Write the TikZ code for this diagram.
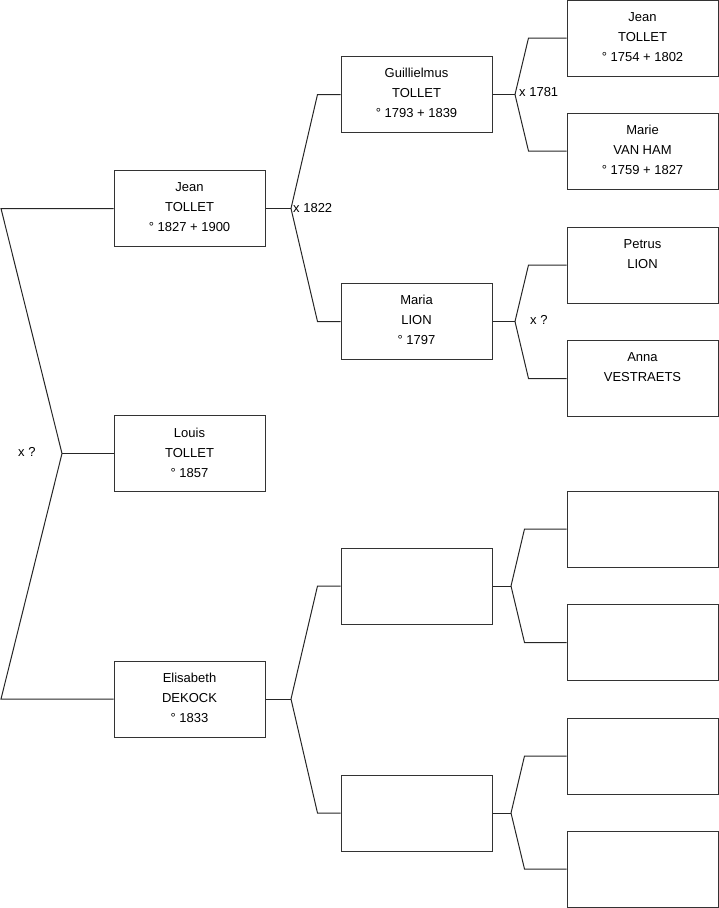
\documentclass[tikz,border=0pt]{standalone}
\usepackage{fontspec}
\setmainfont{Liberation Sans}
\usetikzlibrary{calc}
\tikzset{
  x=1pt,y=-1pt,
  pbox/.style={draw=black!80,line width=1pt,minimum width=151pt,minimum height=76pt,inner sep=0pt},
  ptext/.style={anchor=north,align=center,inner sep=0pt,font=\fontsize{13}{20}\selectfont},
  conn/.style={draw=black!85,line width=1pt},
  lbl/.style={inner sep=0pt,font=\fontsize{13}{15}\selectfont}
}
\begin{document}
\begin{tikzpicture}
\useasboundingbox (0,0) rectangle (719,908);
% level 1
\node[pbox] (j1) at (189.5,208.5) {};
\node[pbox] (l1) at (189.5,453.5) {};
\node[pbox] (e1) at (189.5,699) {};
% level 2
\node[pbox] (g2) at (416.5,94.5) {};
\node[pbox] (m2) at (416.5,321.5) {};
\node[pbox] (x2) at (416.5,586) {};
\node[pbox] (y2) at (416.5,813) {};
% level 3
\node[pbox] (j3) at (642.5,38) {};
\node[pbox] (m3) at (642.5,151) {};
\node[pbox] (p3) at (642.5,265) {};
\node[pbox] (a3) at (642.5,378.5) {};
\node[pbox] (b3) at (642.5,529) {};
\node[pbox] (c3) at (642.5,642.5) {};
\node[pbox] (d3) at (642.5,756) {};
\node[pbox] (f3) at (642.5,869) {};
% texts
\node[ptext] (tj1) at ($(j1.north)+(0,12)$) {Jean\\TOLLET\\° 1827 + 1900};
\node[ptext] (tl1) at ($(l1.north)+(0,13)$) {Louis\\TOLLET\\° 1857};
\node[ptext] (te1) at ($(e1.north)+(0,12)$) {Elisabeth\\DEKOCK\\° 1833};
\node[ptext] (tg2) at ($(g2.north)+(0,12)$) {Guillielmus\\TOLLET\\° 1793 + 1839};
\node[ptext] (tm2) at ($(m2.north)+(0,12)$) {Maria\\LION\\° 1797};
\node[ptext] (tj3) at ($(j3.north)+(0,12.5)$) {Jean\\TOLLET\\° 1754 + 1802};
\node[ptext] (tm3) at ($(m3.north)+(0,12.5)$) {Marie\\VAN HAM\\° 1759 + 1827};
\node[ptext] (tp3) at ($(p3.north)+(0,12.5)$) {Petrus\\LION};
\node[ptext] (ta3) at ($(a3.north)+(0,12)$) {Anna\\VESTRAETS};
% root fork
\coordinate (ra) at (1,208.5);
\coordinate (rv) at (62,453.5);
\coordinate (rb) at (1,699);
\draw[conn] (j1.west) -- (ra) -- (rv) -- (rb) -- (e1.west);
\draw[conn] (rv) -- (l1.west);
\node[lbl,anchor=west] (lx0) at (18,452) {x ?};
% Jean fork
\coordinate (v1) at (291,208.5);
\draw[conn] (j1.east) -- (v1);
\draw[conn] (v1) -- ($(g2.west)+(-23,0)$) -- (g2.west);
\draw[conn] (v1) -- ($(m2.west)+(-23,0)$) -- (m2.west);
\node[lbl,anchor=west] (lx1) at (293,208) {x 1822};
% Elisabeth fork
\coordinate (v2) at (291,699);
\draw[conn] (e1.east) -- (v2);
\draw[conn] (v2) -- ($(x2.west)+(-23,0)$) -- (x2.west);
\draw[conn] (v2) -- ($(y2.west)+(-23,0)$) -- (y2.west);
% Guillielmus fork
\coordinate (v3) at (515,94.5);
\draw[conn] (g2.east) -- (v3);
\draw[conn] (v3) -- ($(j3.west)+(-38,0)$) -- (j3.west);
\draw[conn] (v3) -- ($(m3.west)+(-38,0)$) -- (m3.west);
\node[lbl,anchor=west] (lx3) at (519,92) {x 1781};
% Maria fork
\coordinate (v4) at (515,321.5);
\draw[conn] (m2.east) -- (v4);
\draw[conn] (v4) -- ($(p3.west)+(-38,0)$) -- (p3.west);
\draw[conn] (v4) -- ($(a3.west)+(-38,0)$) -- (a3.west);
\node[lbl,anchor=west] (lx4) at (530,320) {x ?};
% empty forks
\coordinate (v5) at (511,586);
\draw[conn] (x2.east) -- (v5);
\draw[conn] (v5) -- ($(b3.west)+(-42,0)$) -- (b3.west);
\draw[conn] (v5) -- ($(c3.west)+(-42,0)$) -- (c3.west);
\coordinate (v6) at (511,813);
\draw[conn] (y2.east) -- (v6);
\draw[conn] (v6) -- ($(d3.west)+(-42,0)$) -- (d3.west);
\draw[conn] (v6) -- ($(f3.west)+(-42,0)$) -- (f3.west);
\end{tikzpicture}
\end{document}
